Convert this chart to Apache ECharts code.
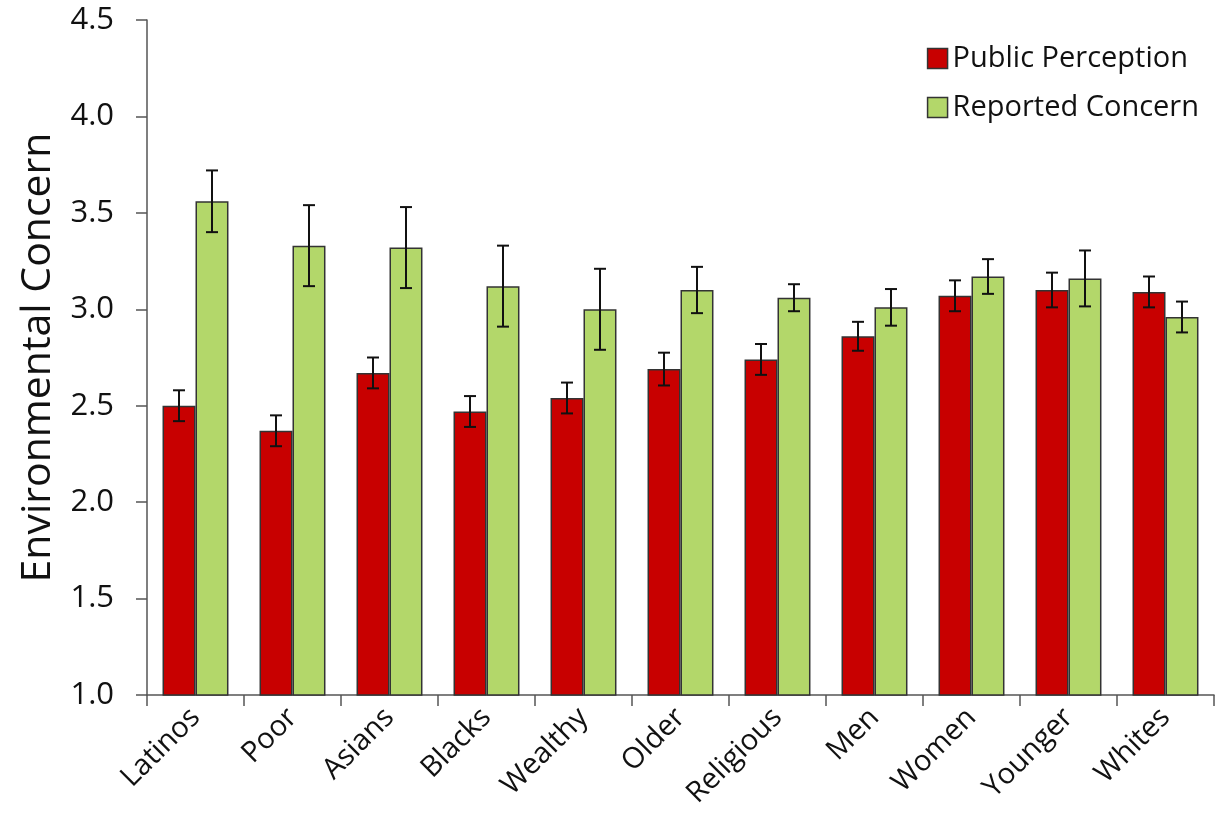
<!DOCTYPE html>
<html><head><meta charset="utf-8">
<script src="https://cdn.jsdelivr.net/npm/echarts@6/dist/echarts.min.js"></script>
<style>html,body{margin:0;padding:0;background:#fff}#c{width:1222px;height:820px}</style>
</head><body><div id="c"></div>
<script>
var categories = ['Latinos','Poor','Asians','Blacks','Wealthy','Older','Religious','Men','Women','Younger','Whites'];
var perception = [2.50, 2.37, 2.67, 2.47, 2.54, 2.69, 2.74, 2.86, 3.07, 3.10, 3.09];
var perceptionErr = [0.08, 0.08, 0.08, 0.08, 0.08, 0.085, 0.08, 0.075, 0.08, 0.09, 0.08];
var concern = [3.56, 3.33, 3.32, 3.12, 3.00, 3.10, 3.06, 3.01, 3.17, 3.16, 2.96];
var concernErr = [0.16, 0.21, 0.21, 0.21, 0.21, 0.12, 0.07, 0.095, 0.09, 0.145, 0.08];

var FONT = 'Open Sans';
var GAP = 0.32;
function errSeries(vals, errs, side) {
  return {
    type: 'custom',
    z: 5,
    silent: true,
    data: vals.map(function (v, i) { return [i, v, errs[i]]; }),
    renderItem: function (params, api) {
      var i = api.value(0), v = api.value(1), e = api.value(2);
      var band = api.size([1, 0])[0];
      var bw = band * (1 - GAP) / 2;
      var c = api.coord([i, v]);
      var x = c[0] + side * bw / 2;
      var top = api.coord([i, v + e])[1];
      var bot = api.coord([i, v - e])[1];
      var cap = 6;
      var st = { stroke: '#111', lineWidth: 2 };
      return { type: 'group', children: [
        { type: 'line', shape: { x1: x, y1: top, x2: x, y2: bot }, style: st },
        { type: 'line', shape: { x1: x - cap, y1: top, x2: x + cap, y2: top }, style: st },
        { type: 'line', shape: { x1: x - cap, y1: bot, x2: x + cap, y2: bot }, style: st }
      ]};
    }
  };
}
var chart = echarts.init(document.getElementById('c'));
chart.setOption({
  animation: false,
  textStyle: { fontFamily: FONT },
  grid: { left: 147, right: 8, top: 20, bottom: 125 },
  legend: {
    right: 18, top: 39, orient: 'vertical', itemGap: 20, icon: 'rect',
    itemWidth: 20, itemHeight: 20,
    textStyle: { fontFamily: FONT, fontSize: 29, color: '#111' },
    data: [
      { name: 'Public Perception', itemStyle: { borderColor: '#333', borderWidth: 1.5 } },
      { name: 'Reported Concern', itemStyle: { borderColor: '#333', borderWidth: 1.5 } }
    ]
  },
  xAxis: {
    type: 'category', data: categories, boundaryGap: true,
    axisLine: { lineStyle: { color: '#555', width: 1.5 } },
    axisTick: { show: true, length: 11, lineStyle: { color: '#555', width: 1.5 } },
    axisLabel: { rotate: 45, fontFamily: FONT, fontSize: 29, color: '#111', margin: 18 }
  },
  yAxis: {
    type: 'value', min: 1.0, max: 4.5, interval: 0.5,
    name: 'Environmental Concern', nameLocation: 'middle', nameGap: 88,
    nameTextStyle: { fontFamily: FONT, fontSize: 41, color: '#111' },
    axisLine: { show: true, lineStyle: { color: '#555', width: 1.5 } },
    axisTick: { show: true, length: 11, lineStyle: { color: '#555', width: 1.5 } },
    splitLine: { show: false },
    axisLabel: { fontFamily: FONT, fontSize: 31, color: '#111', margin: 33,
      formatter: function (v) { return v.toFixed(1); } }
  },
  series: [
    { name: 'Public Perception', type: 'bar', data: perception, barGap: '0%', barCategoryGap: '32%',
      itemStyle: { color: '#C80000', borderColor: '#333', borderWidth: 1.5 } },
    { name: 'Reported Concern', type: 'bar', data: concern, barGap: '0%', barCategoryGap: '32%',
      itemStyle: { color: '#B3D76A', borderColor: '#333', borderWidth: 1.5 } },
    errSeries(perception, perceptionErr, -1),
    errSeries(concern, concernErr, 1)
  ]
});
</script></body></html>
